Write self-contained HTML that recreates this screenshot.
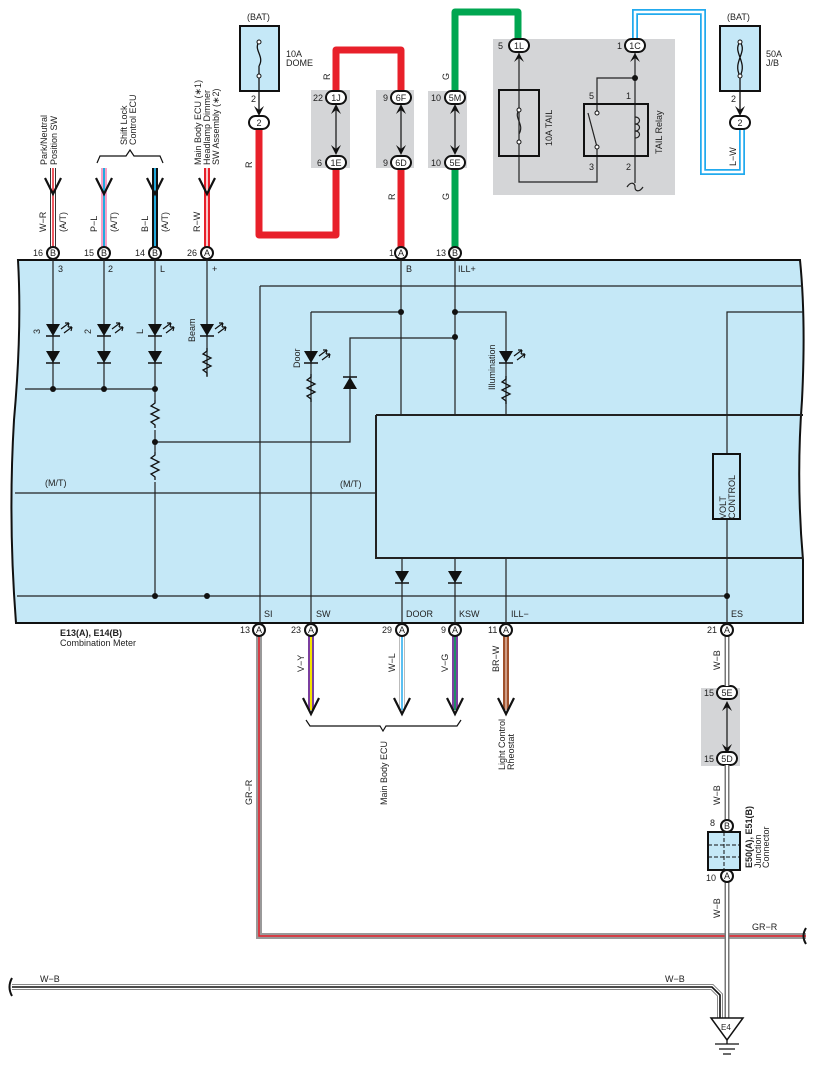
<!DOCTYPE html>
<html><head><meta charset="utf-8"><style>
html,body{margin:0;padding:0;background:#fff}
svg{display:block}
text{font-family:"Liberation Sans",sans-serif;font-size:9px;fill:#222}
.b{font-weight:bold}
</style></head><body>
<svg width="817" height="1066" viewBox="0 0 817 1066" xmlns="http://www.w3.org/2000/svg">
<defs>
<g id="led"><polygon points="-7,-6 7,-6 0,6" fill="#111"/><line x1="-7" y1="6" x2="7" y2="6" stroke="#111" stroke-width="1.5"/><path d="M8,-1 l8,-6 M11,3 l8,-6" stroke="#111" stroke-width="1.2"/><path d="M16,-7 l-4,0 M16,-7 l-1,4 M19,-3 l-4,0 M19,-3 l-1,4" stroke="#111" stroke-width="1.2"/></g>
<g id="dio"><polygon points="-7,-6 7,-6 0,6" fill="#111"/><line x1="-7" y1="6" x2="7" y2="6" stroke="#111" stroke-width="1.5"/></g>
<path id="res" d="M0,0 l0,3 l-4,3 l8,4 l-8,4 l8,4 l-8,4 l4,3 l0,3" fill="none" stroke="#111" stroke-width="1.3"/>
</defs>

<!-- meter body -->
<path d="M18,260 L800,260 Q806,320 802,400 Q796,480 803,560 L803,623 L16,623 Q8,520 14,420 Q22,330 18,260 Z" fill="#c5e8f7" stroke="#111" stroke-width="2"/>
<g stroke="#222" stroke-width="1.2" fill="none">
<path d="M260,286 H803 M260,286 V630"/>
<path d="M376,415 H803 M376,415 V558 H803" stroke-width="2"/>
<path d="M53,253 V389 M104,253 V389 M155,253 V596 M207,253 V377"/>
<path d="M25,389 H155"/>
<path d="M155,442 H350 V338 H455"/>
<path d="M15,493 H376"/>
<path d="M17,596 H727"/>
<path d="M311,312 H401 M311,312 V630"/>
<path d="M401,253 V415 M455,253 V415 M455,312 H506 V415"/>
<path d="M402,558 V630 M455,558 V630 M506,558 V630"/>
<path d="M803,312 H727 V630"/>
</g>
<rect x="713" y="454" width="27" height="65" fill="#c5e8f7" stroke="#111" stroke-width="2"/>
<text transform="translate(726,519) rotate(-90)" style="font-size:9px">VOLT</text>
<text transform="translate(735,519) rotate(-90)" style="font-size:9px">CONTROL</text>
<g fill="#111">
<circle cx="53" cy="389" r="3"/><circle cx="104" cy="389" r="3"/><circle cx="155" cy="389" r="3"/>
<circle cx="155" cy="442" r="3"/><circle cx="155" cy="596" r="3"/><circle cx="207" cy="596" r="3"/><circle cx="727" cy="596" r="3"/>
<circle cx="401" cy="312" r="3"/><circle cx="455" cy="312" r="3"/><circle cx="455" cy="337" r="3"/>
</g>
<use href="#led" x="53" y="330"/><use href="#led" x="104" y="330"/><use href="#led" x="155" y="330"/><use href="#led" x="207" y="330"/>
<use href="#dio" x="53" y="357"/><use href="#dio" x="104" y="357"/><use href="#dio" x="155" y="357"/>
<use href="#led" x="311" y="357"/><use href="#led" x="506" y="357"/>
<g transform="translate(350,383) rotate(180)"><use href="#dio"/></g>
<use href="#dio" x="402" y="577"/><use href="#dio" x="455" y="577"/>
<rect x="148" y="400" width="14" height="30" fill="#c5e8f7"/><use href="#res" x="155" y="400"/>
<rect x="148" y="452" width="14" height="30" fill="#c5e8f7"/><use href="#res" x="155" y="452"/>
<use href="#res" x="207" y="348"/><use href="#res" x="311" y="374"/><use href="#res" x="506" y="376"/>
<text transform="translate(40,334) rotate(-90)">3</text>
<text transform="translate(91,334) rotate(-90)">2</text>
<text transform="translate(143,334) rotate(-90)">L</text>
<text transform="translate(195,342) rotate(-90)">Beam</text>
<text transform="translate(300,368) rotate(-90)">Door</text>
<text transform="translate(495,390) rotate(-90)">Illumination</text>
<text x="45" y="486">(M/T)</text><text x="340" y="487">(M/T)</text>
<text x="58" y="272">3</text><text x="108" y="272">2</text><text x="160" y="272">L</text><text x="212" y="272">+</text>
<text x="406" y="272">B</text><text x="458" y="272">ILL+</text>
<text x="264" y="617">SI</text><text x="316" y="617">SW</text><text x="406" y="617">DOOR</text><text x="459" y="617">KSW</text><text x="511" y="617">ILL−</text><text x="731" y="617">ES</text>
<text x="60" y="636" class="b">E13(A), E14(B)</text><text x="60" y="646">Combination Meter</text>

<!-- top left incoming wires -->
<g stroke-linecap="butt">
<line x1="53" y1="168" x2="53" y2="247" stroke="#333" stroke-width="6"/><line x1="53" y1="168" x2="53" y2="247" stroke="#fff" stroke-width="4"/><line x1="53" y1="168" x2="53" y2="247" stroke="#e8202a" stroke-width="1.5"/>
<line x1="104" y1="168" x2="104" y2="247" stroke="#f5a0c8" stroke-width="6"/><line x1="104" y1="168" x2="104" y2="247" stroke="#22aadd" stroke-width="2"/>
<line x1="155" y1="168" x2="155" y2="247" stroke="#111" stroke-width="6"/><line x1="155" y1="168" x2="155" y2="247" stroke="#22aadd" stroke-width="2"/>
<line x1="207" y1="168" x2="207" y2="247" stroke="#e8202a" stroke-width="6"/><line x1="207" y1="168" x2="207" y2="247" stroke="#fff" stroke-width="1.5"/>
</g>
<g fill="none" stroke="#111" stroke-width="2.2">
<path d="M45,178 L53,194 L61,178"/><path d="M96,178 L104,194 L112,178"/><path d="M147,178 L155,194 L163,178"/><path d="M199,178 L207,194 L215,178"/>
<path d="M97,163 l3,-7 H126 l4,-6 l4,6 H160 l3,7" stroke-width="1.2"/>
</g>
<text transform="translate(47,165) rotate(-90)">Park/Neutral</text><text transform="translate(57,165) rotate(-90)">Position SW</text>
<text transform="translate(127,145) rotate(-90)">Shift Lock</text><text transform="translate(136,145) rotate(-90)">Control ECU</text>
<text transform="translate(201,165) rotate(-90)">Main Body ECU (∗1)</text><text transform="translate(210,165) rotate(-90)">Headlamp Dimmer</text><text transform="translate(219,165) rotate(-90)">SW Assembly (∗2)</text>
<text transform="translate(46,232) rotate(-90)">W−R</text><text transform="translate(66,232) rotate(-90)">(A/T)</text>
<text transform="translate(97,232) rotate(-90)">P−L</text><text transform="translate(117,232) rotate(-90)">(A/T)</text>
<text transform="translate(148,232) rotate(-90)">B−L</text><text transform="translate(168,232) rotate(-90)">(A/T)</text>
<text transform="translate(200,232) rotate(-90)">R−W</text>

<!-- grey junction boxes -->
<rect x="311" y="90" width="39" height="78" fill="#d4d5d7"/>
<rect x="376" y="90" width="38" height="78" fill="#d4d5d7"/>
<rect x="428" y="91" width="39" height="77" fill="#d4d5d7"/>
<rect x="493" y="39" width="182" height="156" fill="#d4d5d7"/>
<rect x="701" y="688" width="39" height="78" fill="#d4d5d7"/>

<!-- red wires -->
<path d="M259,130 V235 H336 V168 M336,90 V50 H401 V90 M401,168 V247" fill="none" stroke="#e8202a" stroke-width="7" stroke-linejoin="round"/>
<!-- green -->
<path d="M455,168 V247 M455,90 V12 H518 V40" fill="none" stroke="#00a651" stroke-width="7" stroke-linejoin="round"/>
<!-- blue -->
<path d="M635,40 V12 H703 V172 H742 V128" fill="none" stroke="#22aaee" stroke-width="6"/>
<path d="M635,40 V12 H703 V172 H742 V128" fill="none" stroke="#fff" stroke-width="2.5"/>

<!-- fuse boxes -->
<rect x="240" y="26" width="39" height="65" fill="#c5e8f7" stroke="#111" stroke-width="2"/>
<path d="M259,42 c-6,8 6,14 0,24 M259,66 V113" fill="none" stroke="#111" stroke-width="1.3"/>
<circle cx="259" cy="42" r="2" fill="#fff" stroke="#111"/><circle cx="259" cy="76" r="2" fill="#fff" stroke="#111"/>
<path d="M254,106 L259,116 L264,106 L259,110Z" fill="#111"/>
<text x="247" y="20">(BAT)</text><text x="286" y="57">10A</text><text x="286" y="66">DOME</text>
<text x="251" y="102">2</text>
<rect x="720" y="26" width="40" height="65" fill="#c5e8f7" stroke="#111" stroke-width="2"/>
<path d="M740,42 c-8,10 8,20 0,34 M740,42 c8,10 -8,20 0,34 M740,76 V113" fill="none" stroke="#111" stroke-width="1.3"/>
<circle cx="740" cy="42" r="2" fill="#fff" stroke="#111"/><circle cx="740" cy="76" r="2" fill="#fff" stroke="#111"/>
<path d="M735,106 L740,116 L745,106 L740,110Z" fill="#111"/>
<text x="727" y="20">(BAT)</text><text x="766" y="57">50A</text><text x="766" y="66">J/B</text><text x="731" y="102">2</text>
<text transform="translate(736,166) rotate(-90)">L−W</text>

<!-- tail relay area -->
<g fill="none" stroke="#222" stroke-width="1.2">
<path d="M519,52 V182 H597 V147 M597,113 V78 H635 M635,52 V183"/>
<path d="M597,147 L588,113"/>
<path d="M627,187 c4,-6 8,-4 8,0 s4,6 8,0"/>
<path d="M519,110 c-6,8 6,14 0,24"/>
<path d="M635,117 c6,0 6,7 0,7 c6,0 6,7 0,7 c6,0 6,7 0,7"/>
</g>
<rect x="499" y="90" width="40" height="66" fill="none" stroke="#111" stroke-width="2"/>
<rect x="584" y="104" width="64" height="52" fill="none" stroke="#111" stroke-width="2"/>
<circle cx="519" cy="110" r="2" fill="#fff" stroke="#111"/><circle cx="519" cy="142" r="2" fill="#fff" stroke="#111"/>
<circle cx="597" cy="113" r="2" fill="#fff" stroke="#111"/><circle cx="597" cy="147" r="2" fill="#fff" stroke="#111"/>
<circle cx="635" cy="78" r="3" fill="#111"/>
<path d="M514,62 L519,53 L524,62 L519,58Z M630,62 L635,53 L640,62 L635,58Z" fill="#111"/>
<text x="589" y="99">5</text><text x="626" y="99">1</text><text x="589" y="170">3</text><text x="626" y="170">2</text>
<text transform="translate(552,146) rotate(-90)">10A TAIL</text>
<text transform="translate(662,154) rotate(-90)">TAIL Relay</text>
<text x="498" y="49">5</text><text x="617" y="49">1</text>

<!-- junction arrows -->
<g stroke="#111" stroke-width="1.2"><line x1="336" y1="108" x2="336" y2="150"/><line x1="401" y1="108" x2="401" y2="150"/><line x1="455" y1="108" x2="455" y2="150"/><line x1="727" y1="703" x2="727" y2="752"/></g>
<g fill="#111">
<path d="M331,114 L336,104 L341,114 L336,110Z M331,145 L336,155 L341,145 L336,149Z"/>
<path d="M396,114 L401,104 L406,114 L401,110Z M396,145 L401,155 L406,145 L401,149Z"/>
<path d="M450,114 L455,104 L460,114 L455,110Z M450,145 L455,155 L460,145 L455,149Z"/>
<path d="M722,711 L727,701 L732,711 L727,707Z M722,744 L727,754 L732,744 L727,748Z"/>
</g>

<!-- oval connectors -->
<g fill="#fff" stroke="#111" stroke-width="2">
<rect x="249" y="116" width="20" height="13" rx="6.5"/>
<rect x="326" y="91" width="20" height="13" rx="6.5"/><rect x="326" y="156" width="20" height="13" rx="6.5"/>
<rect x="391" y="91" width="20" height="13" rx="6.5"/><rect x="391" y="156" width="20" height="13" rx="6.5"/>
<rect x="445" y="91" width="20" height="13" rx="6.5"/><rect x="445" y="156" width="20" height="13" rx="6.5"/>
<rect x="509" y="39" width="20" height="13" rx="6.5"/><rect x="625" y="39" width="20" height="13" rx="6.5"/>
<rect x="730" y="116" width="20" height="13" rx="6.5"/>
<rect x="717" y="686" width="20" height="13" rx="6.5"/><rect x="717" y="752" width="20" height="13" rx="6.5"/>
</g>
<g style="font-size:8.5px" text-anchor="middle">
<text x="259" y="126">2</text><text x="336" y="101">1J</text><text x="336" y="166">1E</text>
<text x="401" y="101">6F</text><text x="401" y="166">6D</text><text x="455" y="101">5M</text><text x="455" y="166">5E</text>
<text x="519" y="49">1L</text><text x="635" y="49">1C</text><text x="740" y="126">2</text>
<text x="727" y="696">5E</text><text x="727" y="762">5D</text>
</g>
<text x="313" y="101">22</text><text x="317" y="166">6</text><text x="383" y="101">9</text><text x="383" y="166">9</text>
<text x="431" y="101">10</text><text x="431" y="166">10</text><text x="704" y="696">15</text><text x="704" y="762">15</text>
<text transform="translate(252,168) rotate(-90)">R</text><text transform="translate(330,80) rotate(-90)">R</text>
<text transform="translate(395,200) rotate(-90)">R</text>
<text transform="translate(449,80) rotate(-90)">G</text><text transform="translate(449,200) rotate(-90)">G</text>

<!-- bottom wires -->
<path d="M259,636 V936 H806" fill="none" stroke="#999" stroke-width="6"/>
<path d="M259,636 V936 H806" fill="none" stroke="#e8202a" stroke-width="1.5"/>
<path d="M806,928 q-5,8 0,16" fill="none" stroke="#111" stroke-width="2"/>
<g stroke-linecap="butt">
<line x1="311" y1="636" x2="311" y2="710" stroke="#7b3fa0" stroke-width="6"/><line x1="311" y1="636" x2="311" y2="710" stroke="#f5e400" stroke-width="2"/>
<line x1="402" y1="636" x2="402" y2="710" stroke="#bbb" stroke-width="6"/><line x1="402" y1="636" x2="402" y2="710" stroke="#fff" stroke-width="4"/><line x1="402" y1="636" x2="402" y2="710" stroke="#22aaee" stroke-width="1.5"/>
<line x1="455" y1="636" x2="455" y2="710" stroke="#7b3fa0" stroke-width="6"/><line x1="455" y1="636" x2="455" y2="710" stroke="#00a651" stroke-width="1.5"/>
<line x1="506" y1="636" x2="506" y2="710" stroke="#a0522d" stroke-width="6"/><line x1="506" y1="636" x2="506" y2="710" stroke="#f0d0c0" stroke-width="1.2"/>
</g>
<g fill="none" stroke="#111" stroke-width="2.2">
<path d="M303,698 L311,714 L319,698"/><path d="M394,698 L402,714 L410,698"/><path d="M447,698 L455,714 L463,698"/><path d="M498,698 L506,714 L514,698"/>
<path d="M306,720 l4,6 H380 l3,5 l3,-5 H457 l4,-6" stroke-width="1.2"/>
</g>
<text transform="translate(387,805) rotate(-90)">Main Body ECU</text>
<text transform="translate(505,770) rotate(-90)">Light Control</text><text transform="translate(514,770) rotate(-90)">Rheostat</text>
<text transform="translate(304,672) rotate(-90)">V−Y</text><text transform="translate(395,672) rotate(-90)">W−L</text>
<text transform="translate(448,672) rotate(-90)">V−G</text><text transform="translate(499,672) rotate(-90)">BR−W</text>
<text transform="translate(252,805) rotate(-90)">GR−R</text><text x="752" y="930">GR−R</text>

<!-- W-B ES line -->
<path d="M727,636 V686 M727,765 V826 M727,876 V1022" fill="none" stroke="#777" stroke-width="5"/>
<path d="M727,636 V686 M727,765 V826 M727,876 V1022" fill="none" stroke="#fff" stroke-width="2"/>
<path d="M12,987 H712 L720,995 V1022" fill="none" stroke="#888" stroke-width="6"/>
<path d="M12,987 H712 L720,995 V1022" fill="none" stroke="#fff" stroke-width="4"/>
<path d="M12,987 H712 L720,995 V1022" fill="none" stroke="#111" stroke-width="1.6"/>
<path d="M12,978 q-5,9 0,18" fill="none" stroke="#111" stroke-width="2"/>
<text x="40" y="982">W−B</text><text x="665" y="982">W−B</text>
<text transform="translate(720,670) rotate(-90)">W−B</text><text transform="translate(720,805) rotate(-90)">W−B</text><text transform="translate(720,918) rotate(-90)">W−B</text>
<rect x="708" y="832" width="32" height="38" fill="#c5e8f7" stroke="#111" stroke-width="2"/>
<path d="M724,832 V870 M708,845 H740 M708,857 H740" stroke="#111" stroke-width="1" stroke-dasharray="4,2"/>
<text transform="translate(752,868) rotate(-90)" class="b">E50(A), E51(B)</text>
<text transform="translate(761,868) rotate(-90)">Junction</text><text transform="translate(769,868) rotate(-90)">Connector</text>
<text x="710" y="826">8</text><text x="706" y="881">10</text>
<polygon points="711,1018 743,1018 727,1040" fill="#fff" stroke="#111" stroke-width="1.5"/>
<text x="721" y="1030" style="font-size:8px">E4</text>
<path d="M727,1040 V1044 M715,1044 H739 M719,1049 H735 M723,1054 H731" stroke="#111" stroke-width="1.3"/>

<!-- round pin connectors -->
<g fill="#fff" stroke="#111" stroke-width="2">
<circle cx="53" cy="253" r="6"/><circle cx="104" cy="253" r="6"/><circle cx="155" cy="253" r="6"/><circle cx="207" cy="253" r="6"/>
<circle cx="401" cy="253" r="6"/><circle cx="455" cy="253" r="6"/>
<circle cx="259" cy="630" r="6"/><circle cx="311" cy="630" r="6"/><circle cx="402" cy="630" r="6"/><circle cx="455" cy="630" r="6"/><circle cx="506" cy="630" r="6"/><circle cx="727" cy="630" r="6"/>
<circle cx="727" cy="826" r="6"/><circle cx="727" cy="876" r="6"/>
</g>
<g style="font-size:8px" text-anchor="middle">
<text x="53" y="256">B</text><text x="104" y="256">B</text><text x="155" y="256">B</text><text x="207" y="256">A</text><text x="401" y="256">A</text><text x="455" y="256">B</text>
<text x="259" y="633">A</text><text x="311" y="633">A</text><text x="402" y="633">A</text><text x="455" y="633">A</text><text x="506" y="633">A</text><text x="727" y="633">A</text>
<text x="727" y="829">B</text><text x="727" y="879">A</text>
</g>
<text x="33" y="256">16</text><text x="84" y="256">15</text><text x="135" y="256">14</text><text x="187" y="256">26</text><text x="389" y="256">1</text><text x="436" y="256">13</text>
<text x="240" y="633">13</text><text x="291" y="633">23</text><text x="382" y="633">29</text><text x="441" y="633">9</text><text x="488" y="633">11</text><text x="707" y="633">21</text>
</svg>
</body></html>
